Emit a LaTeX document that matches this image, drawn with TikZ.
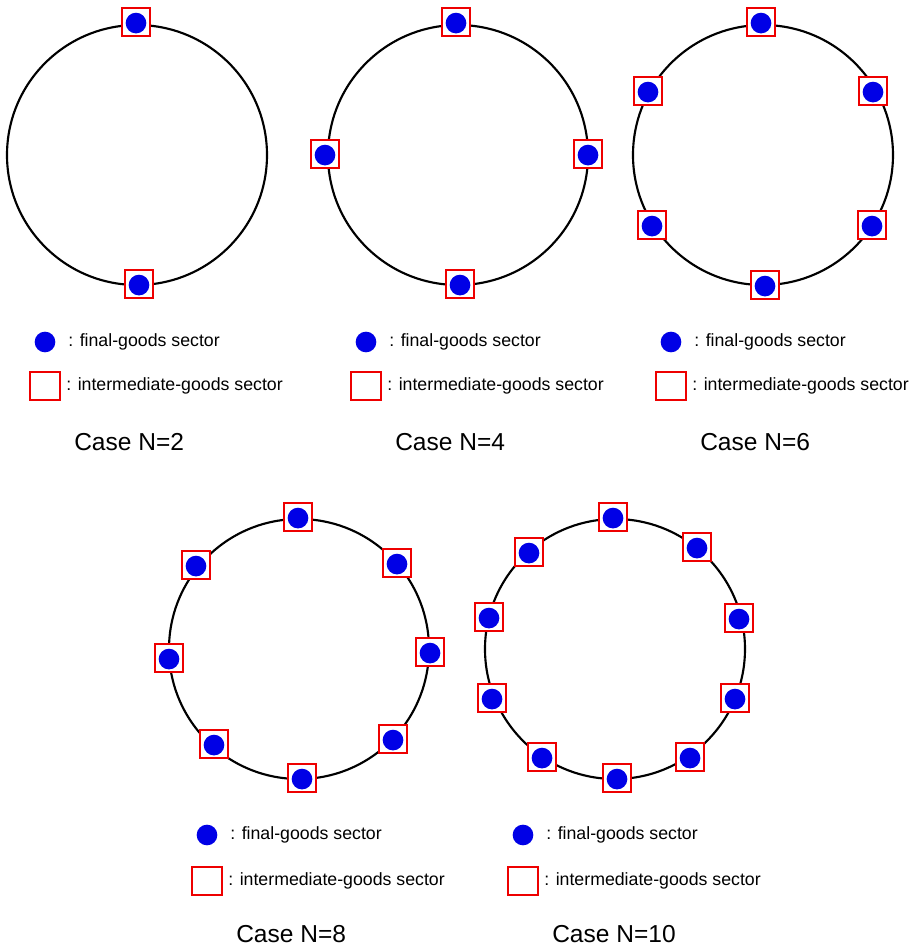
\documentclass[tikz,border=0pt]{standalone}
\usepackage{fontspec}
\setmainfont{Liberation Sans}
\definecolor{sqred}{RGB}{238,0,0}
\definecolor{dotblue}{RGB}{0,0,230}
\begin{document}
\begin{tikzpicture}[x=0.75pt,y=-0.75pt,
  ring/.style={draw=black,line width=1.6pt},
  sq/.style={draw=sqred,fill=white,line width=1.7pt,minimum width=21.5pt,minimum height=20.5pt,inner sep=0pt,outer sep=0pt},
  dot/.style={circle,fill=dotblue,minimum size=15.5pt,inner sep=0pt,outer sep=0pt},
  lsq/.style={draw=sqred,fill=white,line width=1.3pt,minimum width=22pt,minimum height=20.5pt,inner sep=0pt},
  ltxt/.style={anchor=west,inner sep=0pt,font=\fontsize{13.3pt}{15pt}\selectfont},
  case/.style={anchor=west,inner sep=0pt,font=\fontsize{18.4pt}{21pt}\selectfont}]
\useasboundingbox (0,0) rectangle (913,947);
% circles
\coordinate (c1) at (137,155);
\coordinate (c2) at (458,155);
\coordinate (c3) at (763,155);
\coordinate (c4) at (299,649);
\coordinate (c5) at (615,649);
\foreach \c in {c1,c2,c3,c4,c5}{\draw[ring] (\c) circle (130);}
% markers
\foreach \n/\x/\y in {
  a1/136/22, a2/139/284,
  b1/456/22, b2/325/154, b3/588/154, b4/460/284,
  d1/761/22, d2/648/91, d3/873/91, d4/652/225, d5/872/225, d6/765/285,
  e1/298/517, e2/397/563, e3/430/652, e4/393/739, e5/302/778, e6/214/744, e7/169/658, e8/196/565,
  f1/613/517, f2/697/547, f3/739/618, f4/735/698, f5/690/757, f6/617/778, f7/542/757, f8/492/698, f9/489/617, f10/529/552}{
  \node[sq] (sq\n) at (\x,\y) {};
  \node[dot] (dt\n) at ([yshift=-0.8pt]sq\n.center) {};
}
% legends
\foreach \k/\cx/\dy/\sy/\cy/\lab in {
  1/45/342/386/442/2, 2/366/342/386/442/4, 3/671/342/386/442/6,
  4/207/835/881/934/8, 5/523/835/881/934/10}{
  \node[dot] (ld\k) at (\cx,\dy) {};
  \node[lsq] (ls\k) at (\cx,\sy) {};
  \node[ltxt] (lt\k) at (\cx+23,\dy) {: final-goods sector};
  \node[ltxt] (lu\k) at (\cx+21,\sy) {: intermediate-goods sector};
  \node[case] (cs\k) at (\cx+29,\cy) {Case N=\lab};
}
\end{tikzpicture}
\end{document}
